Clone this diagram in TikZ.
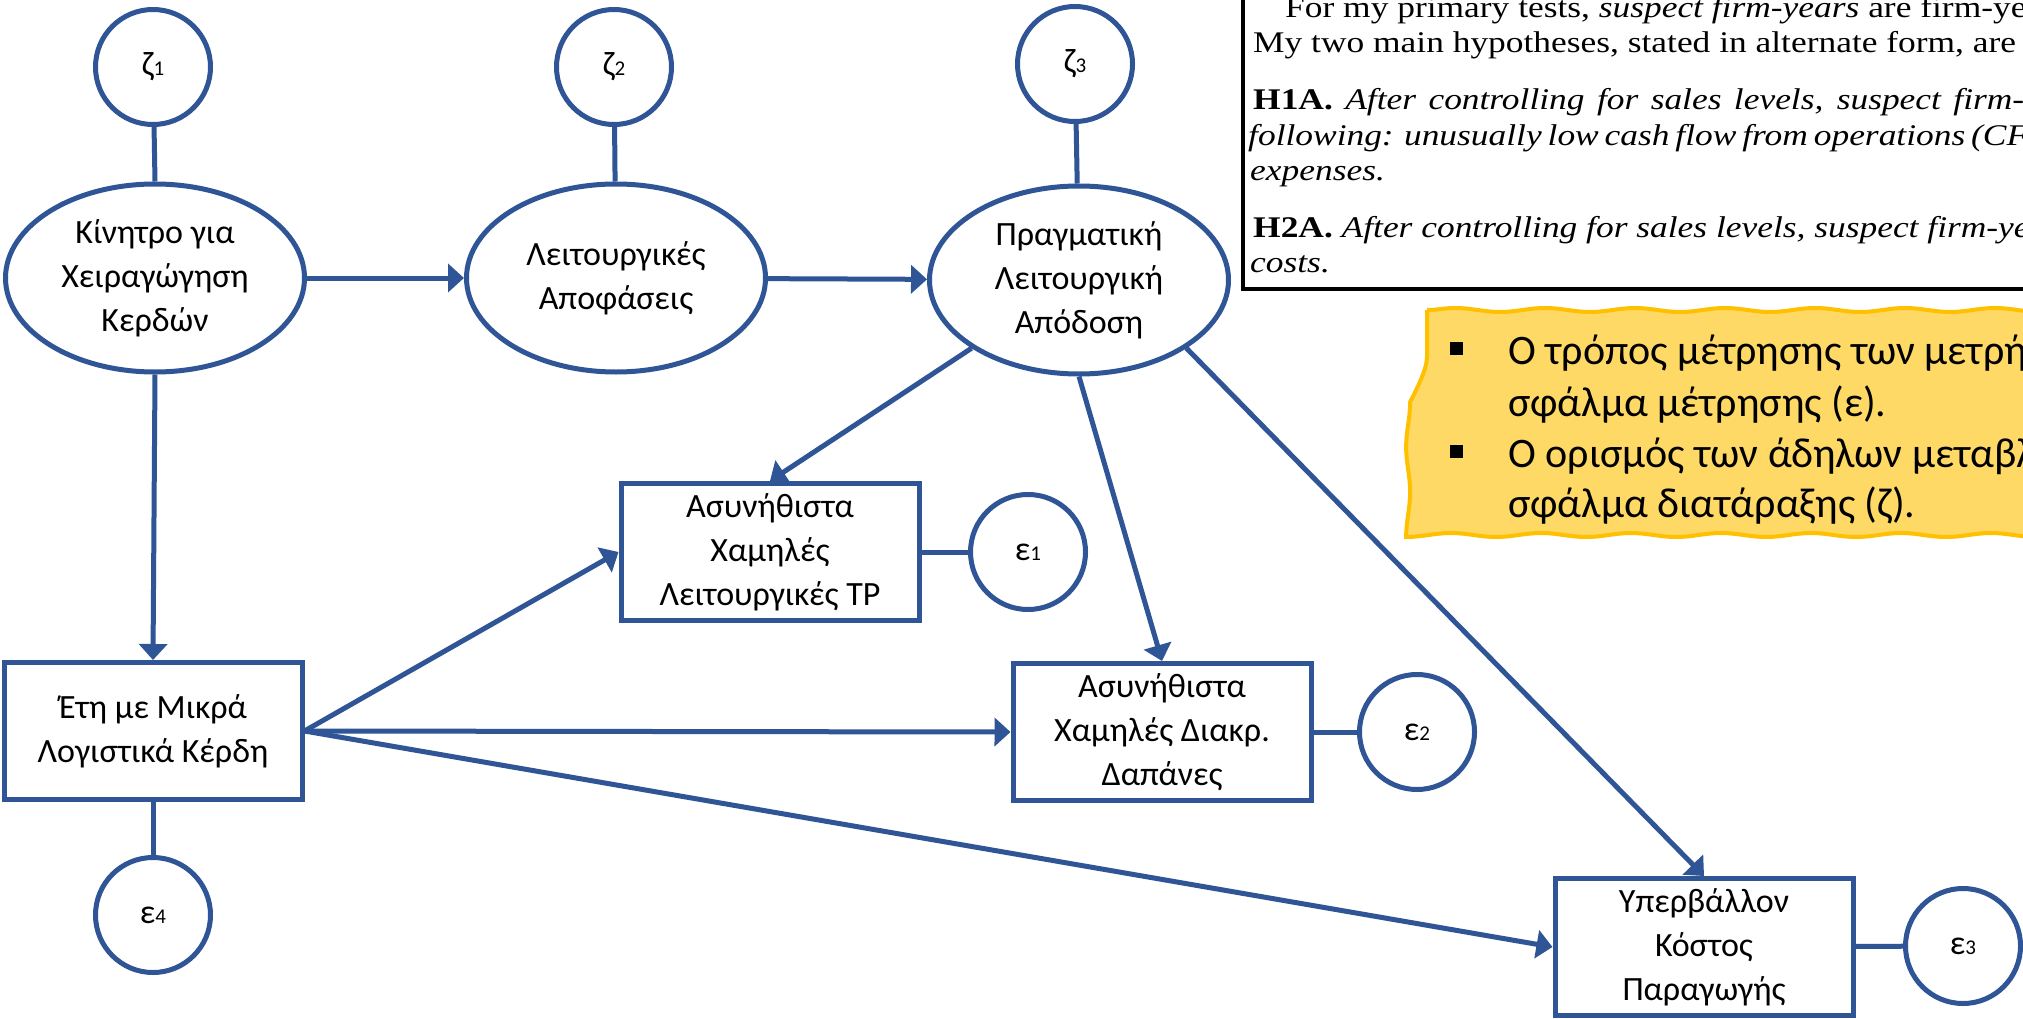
\documentclass[tikz,border=0pt]{standalone}
\usepackage{fontspec}
\setmainfont{Carlito}
\newfontfamily\scanfont[FakeStretch=1.18]{Liberation Serif}
\usetikzlibrary{arrows.meta,shapes.geometric,decorations.pathmorphing}
\definecolor{pptblue}{HTML}{2F5597}
\definecolor{notefill}{HTML}{FFD966}
\definecolor{noteline}{HTML}{FFC000}
\newcommand{\idx}[1]{{\fontsize{21}{21}\selectfont#1}}

\begin{document}
\begin{tikzpicture}[x=1pt,y=-1pt,font=\fontsize{34}{44}\selectfont]
\useasboundingbox (0,0) rectangle (2023,1019);
\fill[white] (0,0) rectangle (2023,1019);

% scanned text and note, cut at the right edge
\begin{scope}
    \clip (0,0) rectangle (2023,1019);
    \draw[line width=4pt] (1243,-10) -- (1243,289) -- (2040,289);
    \begin{scope}[every node/.style={anchor=base west,inner sep=0pt,font=\scanfont\fontsize{30}{36}\selectfont}]
        \node (S1) at (1285,18) {For my primary tests, \textit{suspect firm-years} are firm-years with};
        \node (S2) at (1253,53) {My two main hypotheses, stated in alternate form, are};
        \node (S3) at (1253,110) {\makebox[771pt][s]{\textbf{H1A.} \textit{After controlling for sales levels, suspect firm-}}};
        \node (S4) at (1248,146) {\makebox[775pt][s]{\textit{following: unusually low cash flow from operations (CF}}};
        \node (S5) at (1250,181) {\textit{expenses.}};
        \node (S6) at (1253,237) {\textbf{H2A.} \textit{After controlling for sales levels, suspect firm-years}};
        \node (S7) at (1250,272) {\textit{costs.}};
    \end{scope}
    \draw[noteline,fill=notefill,line width=4pt,decorate,decoration={snake,amplitude=2pt,segment length=90pt}]
        (1427,310) -- (2080,310) -- (2080,537) -- (1427,537) -- cycle;
    \fill (1450,342) rectangle (1463,355);
    \fill (1450,445) rectangle (1463,458);
    \begin{scope}[every node/.style={anchor=base west,inner sep=0pt,font=\fontsize{42}{51}\selectfont}]
        \node (N1) at (1508,364) {Ο τρόπος μέτρησης των μετρήσιμων};
        \node (N2) at (1508,416) {σφάλμα μέτρησης (ε).};
        \node (N3) at (1508,467) {Ο ορισμός των άδηλων μεταβλητών};
        \node (N4) at (1508,517) {σφάλμα διατάραξης (ζ).};
    \end{scope}
\end{scope}

\begin{scope}[every node/.style={ellipse,draw=pptblue,line width=5pt,fill=white,minimum width=299pt,minimum height=188pt,align=center,inner sep=0pt}]
    \node (K) at (155,278) {Κίνητρο για\\Χειραγώγηση\\Κερδών};
    \node (L) at (616,278) {Λειτουργικές\\Αποφάσεις};
    \node (P) at (1079,280) {Πραγματική\\Λειτουργική\\Απόδοση};
\end{scope}
\begin{scope}[every node/.style={rectangle,draw=pptblue,line width=5pt,fill=white,minimum width=298pt,minimum height=137pt,align=center,inner sep=0pt}]
    \node (M) at (153,731) {Έτη με Μικρά\\Λογιστικά Κέρδη};
    \node (T) at (770,552) {Ασυνήθιστα\\Χαμηλές\\Λειτουργικές TP};
    \node (D) at (1162,732) {Ασυνήθιστα\\Χαμηλές Διακρ.\\Δαπάνες};
    \node (Y) at (1704,947) {Υπερβάλλον\\Κόστος\\Παραγωγής};
\end{scope}
\begin{scope}[every node/.style={circle,draw=pptblue,line width=5pt,fill=white,minimum size=115pt,inner sep=0pt}]
    \node (Z1) at (153,67) {ζ\idx{1}};
    \node (Z2) at (614,67) {ζ\idx{2}};
    \node (Z3) at (1075,64) {ζ\idx{3}};
    \node (E1) at (1028,552) {ε\idx{1}};
    \node (E2) at (1417,732) {ε\idx{2}};
    \node (E3) at (1963,946) {ε\idx{3}};
    \node (E4) at (153,915) {ε\idx{4}};
\end{scope}

\begin{scope}[every edge/.style={draw=pptblue,line width=5pt}]
    \draw (Z1) edge (K.north);
    \draw (Z2) edge (L);
    \draw (Z3) edge (P);
    \draw (T) edge (E1);
    \draw (D) edge (E2);
    \draw (Y) edge (E3);
    \draw (M) edge (E4);
\end{scope}
\begin{scope}[every edge/.style={draw=pptblue,line width=5pt,-{Triangle[length=16pt,width=28pt]}}]
    \draw (K) edge (L);
    \draw (L) edge (P);
    \draw (K.south) edge (M.north);
    \draw (P.south west) edge (T.north);
    \draw (P.south) edge (D.north);
    \draw (P.south east) edge (Y.north);
    \draw (M.east) edge (T.west);
    \draw (M.east) edge (D.west);
    \draw (M.east) edge (Y.west);
\end{scope}
\end{tikzpicture}
\end{document}
